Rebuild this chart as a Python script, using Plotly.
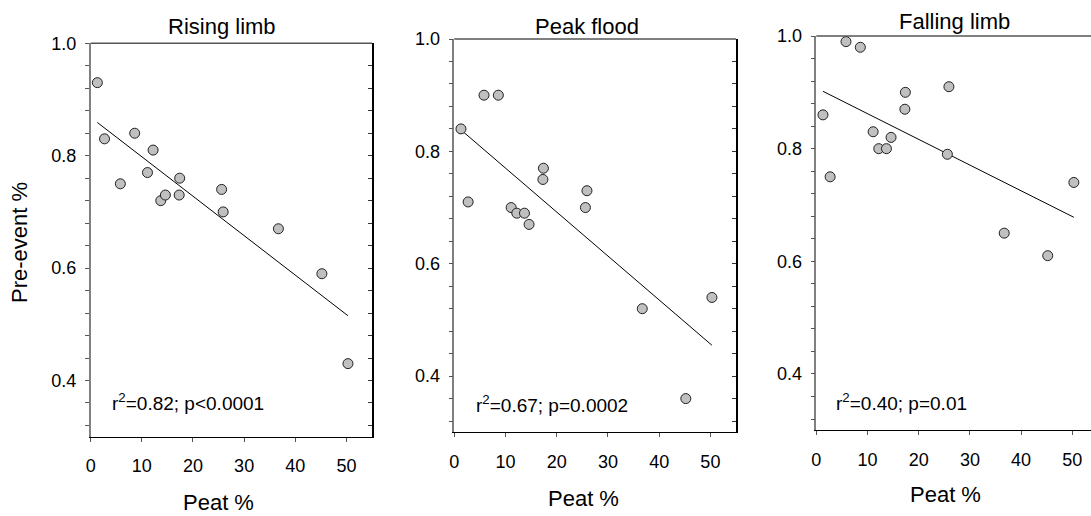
import numpy as np
import plotly.graph_objects as go

# ---- data ----
peat = [1.3, 2.7, 5.8, 8.6, 11.1, 12.2, 13.7, 14.6, 17.3, 17.4, 25.6, 25.9, 36.7, 45.2, 50.3]
rising = [0.93, 0.83, 0.75, 0.84, 0.77, 0.81, 0.72, 0.73, 0.73, 0.76, 0.74, 0.70, 0.67, 0.59, 0.43]
peak = [0.84, 0.71, 0.90, 0.90, 0.70, 0.69, 0.69, 0.67, 0.75, 0.77, 0.70, 0.73, 0.52, 0.36, 0.54]
falling = [0.86, 0.75, 0.99, 0.98, 0.83, 0.80, 0.80, 0.82, 0.87, 0.90, 0.79, 0.91, 0.65, 0.61, 0.74]
titles = ["Rising limb", "Peak flood", "Falling limb"]
stats = ["r<sup>2</sup>=0.82; p<0.0001", "r<sup>2</sup>=0.67; p=0.0002", "r<sup>2</sup>=0.40; p=0.01"]
x_ticks = [0, 10, 20, 30, 40, 50]
y_ticks = [0.4, 0.6, 0.8, 1.0]
y_tick_text = ["0.4", "0.6", "0.8", "1.0"]

W, H = 1091, 516
FONT = "Liberation Sans, Arial, sans-serif"

def px_x(p):
    return p / W

def px_y(p):
    return 1 - p / H

# panel pixel geometry: left, right, top, bottom, xmax
panels = [
    (90.7, 372.0, 43.3, 436.7, 55.0),
    (454.3, 736.0, 39.0, 432.3, 55.0),
    (816.3, 1091.0, 36.0, 430.3, 53.65),
]
title_pos = [(222, 27), (587, 27), (954.5, 22)]
stat_pos = [(110, 402), (474, 404), (834, 402)]
xlabel_pos = [(218.5, 502), (583, 498), (945.5, 494)]

minor_vals = [round(v, 2) for v in np.arange(0.32, 1.0001, 0.04)]

fig = go.Figure()
series = [rising, peak, falling]
annotations = []
shapes = []

for i, (ys, (l, r, t, b, xmax)) in enumerate(zip(series, panels)):
    n = i + 1
    xa = f"x{n}" if n > 1 else "x"
    ya = f"y{n}" if n > 1 else "y"
    # regression line
    slope, intercept = np.polyfit(peat, ys, 1)
    xl = [min(peat), max(peat)]
    yl = [intercept + slope * v for v in xl]
    fig.add_trace(go.Scatter(x=xl, y=yl, mode="lines", line=dict(color="black", width=1),
                             xaxis=xa, yaxis=ya, showlegend=False, hoverinfo="skip"))
    fig.add_trace(go.Scatter(x=peat, y=ys, mode="markers",
                             marker=dict(size=10, color="#c0c0c0", line=dict(color="#202020", width=1)),
                             xaxis=xa, yaxis=ya, showlegend=False))
    xkey = "xaxis" if n == 1 else f"xaxis{n}"
    ykey = "yaxis" if n == 1 else f"yaxis{n}"
    fig.update_layout(**{
        xkey: dict(domain=[px_x(l), px_x(r)], range=[0, xmax], anchor=ya, automargin=False,
                   tickvals=x_ticks, ticks="outside", ticklen=4, tickcolor="#555555",
                   showline=True, linecolor="black", linewidth=1, mirror=False,
                   showgrid=False, zeroline=False,
                   tickfont=dict(family=FONT, size=18, color="black"), ticklabelstandoff=9),
        ykey: dict(domain=[px_y(b), px_y(t)], range=[0.3, 1.0], anchor=xa, automargin=False,
                   tickvals=y_ticks, ticktext=y_tick_text, ticks="outside", ticklen=4,
                   tickcolor="#555555", showline=True, linecolor="#808080", linewidth=1.5,
                   showgrid=False, zeroline=False,
                   minor=dict(tickvals=minor_vals, ticks="outside", ticklen=4, tickcolor="#555555", showgrid=False),
                   tickfont=dict(family=FONT, size=18, color="black"), ticklabelstandoff=5),
    })
    # top frame line
    shapes.append(dict(type="line", xref="paper", yref="paper", x0=px_x(l), x1=px_x(r),
                       y0=px_y(t), y1=px_y(t), line=dict(color="#555555", width=1.5)))
    # right axis with inward ticks (not visible for last panel, cut by image edge)
    if n < 3:
        rn = n + 3
        fig.add_trace(go.Scatter(x=[None], y=[None], xaxis=xa, yaxis=f"y{rn}",
                                 showlegend=False, hoverinfo="skip"))
        fig.update_layout(**{
            f"yaxis{rn}": dict(overlaying=ya, side="right", anchor=xa, range=[0.3, 1.0],
                               domain=[px_y(b), px_y(t)], automargin=False,
                               tickvals=minor_vals, ticks="inside", ticklen=4, tickcolor="#333333",
                               showticklabels=False, showline=True, linecolor="black", linewidth=1.5,
                               showgrid=False, zeroline=False)
        })
    annotations.append(dict(text=titles[i], x=px_x(title_pos[i][0]), y=px_y(title_pos[i][1]),
                            xref="paper", yref="paper", showarrow=False, xanchor="center", yanchor="middle",
                            font=dict(family=FONT, size=22, color="black")))
    annotations.append(dict(text=stats[i], x=px_x(stat_pos[i][0]), y=px_y(stat_pos[i][1]),
                            xref="paper", yref="paper", showarrow=False, xanchor="left", yanchor="middle",
                            font=dict(family=FONT, size=19, color="black")))
    annotations.append(dict(text="Peat %", x=px_x(xlabel_pos[i][0]), y=px_y(xlabel_pos[i][1]),
                            xref="paper", yref="paper", showarrow=False, xanchor="center", yanchor="middle",
                            font=dict(family=FONT, size=22, color="black")))

annotations.append(dict(text="Pre-event %", x=px_x(20), y=px_y(243), xref="paper", yref="paper",
                        showarrow=False, textangle=-90, xanchor="center", yanchor="middle",
                        font=dict(family=FONT, size=22, color="black")))

fig.update_layout(width=W, height=H, margin=dict(l=0, r=0, t=0, b=0, autoexpand=False),
                  paper_bgcolor="white", plot_bgcolor="white",
                  annotations=annotations, shapes=shapes, showlegend=False)

fig.write_html("out.html", config={"displayModeBar": False},
               post_script="document.body.style.margin='0';")
